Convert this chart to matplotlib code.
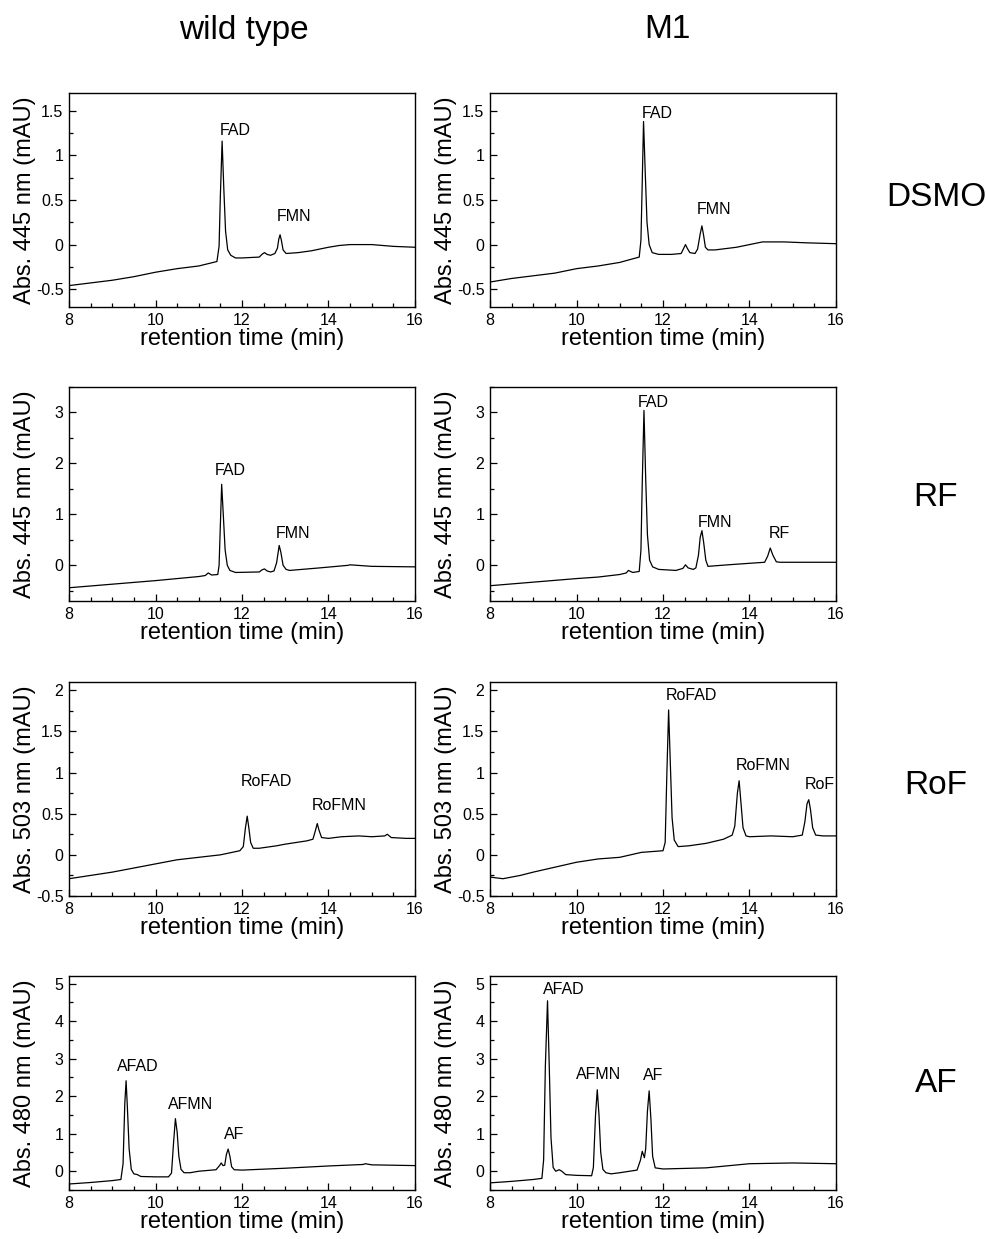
import matplotlib
matplotlib.use('Agg')
import matplotlib.pyplot as plt
from matplotlib.ticker import MultipleLocator, FuncFormatter

plt.rcParams['font.family'] = ['Liberation Sans', 'DejaVu Sans']

# wild type / DSMO
wt_dsmo_t = [8.0, 8.5, 9.0, 9.5, 10.0, 10.5, 11.0, 11.42, 11.47, 11.50, 11.54, 11.58, 11.62, 11.67,
             11.74, 11.85, 12.0, 12.4, 12.46, 12.52, 12.58, 12.66, 12.76, 12.82, 12.85, 12.88, 12.91,
             12.95, 13.02, 13.3, 13.6, 13.8, 14.0, 14.25, 14.5, 15.0, 15.5, 16.0]
wt_dsmo_a = [-0.46, -0.43, -0.40, -0.36, -0.31, -0.27, -0.24, -0.19, -0.02, 0.55, 1.16, 0.62, 0.15, -0.06,
             -0.12, -0.15, -0.15, -0.14, -0.11, -0.09, -0.11, -0.12, -0.10, -0.04, 0.06, 0.11, 0.05,
             -0.06, -0.10, -0.09, -0.07, -0.05, -0.03, -0.01, 0.0, 0.0, -0.02, -0.03]

# M1 / DSMO
m1_dsmo_t = [8.0, 8.5, 9.0, 9.5, 10.0, 10.5, 11.0, 11.3, 11.45, 11.49, 11.52, 11.55, 11.59, 11.63, 11.68,
             11.75, 11.9, 12.2, 12.42, 12.48, 12.52, 12.56, 12.62, 12.74, 12.8, 12.86, 12.9, 12.94,
             12.98, 13.04, 13.2, 13.7, 14.0, 14.3, 14.8, 15.3, 16.0]
m1_dsmo_a = [-0.42, -0.38, -0.35, -0.32, -0.27, -0.24, -0.20, -0.16, -0.14, 0.05, 0.70, 1.38, 0.80, 0.25, 0.0,
             -0.09, -0.11, -0.11, -0.10, -0.04, 0.0, -0.04, -0.09, -0.10, -0.05, 0.12, 0.21, 0.10,
             -0.03, -0.06, -0.06, -0.03, 0.0, 0.03, 0.03, 0.02, 0.01]

# wild type / RF
wt_rf_t = [8.0, 9.0, 10.0, 10.5, 11.0, 11.15, 11.22, 11.3, 11.44, 11.47, 11.50, 11.53, 11.57, 11.61,
           11.66, 11.72, 11.85, 12.4, 12.46, 12.52, 12.58, 12.66, 12.74, 12.8, 12.86, 12.9, 12.95,
           13.02, 13.1, 13.8, 14.45, 14.5, 15.0, 16.0]
wt_rf_a = [-0.44, -0.37, -0.30, -0.26, -0.22, -0.20, -0.15, -0.19, -0.18, 0.0, 0.80, 1.59, 0.95, 0.30,
           0.0, -0.10, -0.14, -0.13, -0.09, -0.07, -0.11, -0.13, -0.11, 0.05, 0.39, 0.25, 0.0,
           -0.08, -0.10, -0.05, 0.0, 0.01, -0.02, -0.03]

# M1 / RF
m1_rf_t = [8.0, 9.0, 10.0, 10.5, 11.0, 11.15, 11.2, 11.3, 11.45, 11.49, 11.52, 11.56, 11.60, 11.64,
           11.69, 11.76, 11.9, 12.3, 12.46, 12.52, 12.58, 12.7, 12.76, 12.82, 12.86, 12.9, 12.94,
           12.99, 13.04, 13.5, 14.0, 14.35, 14.42, 14.48, 14.54, 14.62, 14.7, 15.5, 16.0]
m1_rf_a = [-0.40, -0.33, -0.26, -0.23, -0.18, -0.15, -0.10, -0.14, -0.12, 0.30, 1.60, 3.04, 1.70, 0.60,
           0.10, -0.03, -0.08, -0.10, -0.06, 0.01, -0.05, -0.08, -0.05, 0.20, 0.55, 0.68, 0.45,
           0.10, -0.02, 0.01, 0.04, 0.06, 0.18, 0.34, 0.20, 0.07, 0.06, 0.06, 0.06]

# wild type / RoF
wt_rof_t = [8.0, 8.5, 9.0, 9.5, 10.0, 10.5, 11.0, 11.5, 11.95, 12.03, 12.08, 12.12, 12.16, 12.2,
            12.26, 12.4, 12.8, 13.0, 13.5, 13.64, 13.7, 13.74, 13.78, 13.84, 14.0, 14.3, 14.7,
            15.0, 15.3, 15.36, 15.45, 15.8, 16.0]
wt_rof_a = [-0.29, -0.25, -0.21, -0.16, -0.11, -0.06, -0.03, 0.0, 0.05, 0.10, 0.33, 0.47, 0.32, 0.15,
            0.08, 0.08, 0.11, 0.13, 0.17, 0.19, 0.30, 0.38, 0.30, 0.21, 0.20, 0.22, 0.23,
            0.22, 0.23, 0.25, 0.21, 0.20, 0.20]

# M1 / RoF
m1_rof_t = [8.0, 8.3, 8.7, 9.0, 9.5, 10.0, 10.5, 11.0, 11.5, 12.0, 12.05, 12.09, 12.13, 12.17, 12.21,
            12.26, 12.35, 12.6, 13.0, 13.4, 13.6, 13.66, 13.72, 13.76, 13.8, 13.85, 13.92, 14.0,
            14.5, 15.0, 15.22, 15.28, 15.33, 15.37, 15.41, 15.46, 15.53, 15.7, 16.0]
m1_rof_a = [-0.27, -0.29, -0.25, -0.21, -0.15, -0.09, -0.05, -0.03, 0.03, 0.05, 0.15, 1.00, 1.76, 1.10, 0.45,
            0.18, 0.10, 0.11, 0.14, 0.19, 0.24, 0.35, 0.75, 0.90, 0.65, 0.33, 0.23, 0.22,
            0.23, 0.22, 0.24, 0.40, 0.62, 0.67, 0.55, 0.33, 0.24, 0.23, 0.23]

# wild type / AF
wt_af_t = [8.0, 8.5, 9.0, 9.2, 9.25, 9.29, 9.32, 9.35, 9.39, 9.44, 9.5, 9.58, 9.66, 10.0, 10.3, 10.37,
           10.42, 10.46, 10.5, 10.54, 10.59, 10.66, 10.8, 11.0, 11.4, 11.48, 11.52, 11.56, 11.6,
           11.64, 11.68, 11.72, 11.76, 11.82, 12.0, 13.0, 14.0, 14.8, 14.85, 15.0, 16.0]
wt_af_a = [-0.34, -0.30, -0.25, -0.22, 0.20, 1.80, 2.41, 1.70, 0.60, 0.05, -0.07, -0.09, -0.14, -0.15, -0.15, -0.05,
           0.80, 1.40, 1.05, 0.40, 0.05, -0.04, -0.04, 0.0, 0.04, 0.15, 0.22, 0.15, 0.16,
           0.45, 0.59, 0.40, 0.12, 0.04, 0.03, 0.08, 0.14, 0.18, 0.20, 0.17, 0.15]

# M1 / AF
m1_af_t = [8.0, 8.5, 9.0, 9.2, 9.24, 9.28, 9.33, 9.37, 9.41, 9.46, 9.52, 9.6, 9.66, 9.75, 10.0, 10.35,
           10.39, 10.44, 10.48, 10.52, 10.56, 10.61, 10.68, 10.8, 11.0, 11.4, 11.48, 11.52, 11.57,
           11.6, 11.64, 11.68, 11.72, 11.76, 11.82, 12.0, 13.0, 14.0, 15.0, 16.0]
m1_af_a = [-0.31, -0.27, -0.22, -0.19, 0.30, 2.80, 4.54, 2.80, 0.90, 0.10, 0.0, 0.04, 0.0, -0.09, -0.11, -0.12,
           0.10, 1.50, 2.17, 1.50, 0.50, 0.05, -0.04, -0.07, -0.04, 0.03, 0.30, 0.53, 0.36,
           0.60, 1.60, 2.14, 1.40, 0.40, 0.09, 0.06, 0.09, 0.20, 0.22, 0.20]

col_titles = ['wild type', 'M1']
row_titles = ['DSMO', 'RF', 'RoF', 'AF']
wavelengths = ['445', '445', '503', '480']

traces = [
    [(wt_dsmo_t, wt_dsmo_a), (m1_dsmo_t, m1_dsmo_a)],
    [(wt_rf_t, wt_rf_a), (m1_rf_t, m1_rf_a)],
    [(wt_rof_t, wt_rof_a), (m1_rof_t, m1_rof_a)],
    [(wt_af_t, wt_af_a), (m1_af_t, m1_af_a)],
]

# peak labels: (text, x, y) in data coords of each panel
peak_labels = [
    [[('FAD', 11.84, 1.28), ('FMN', 13.20, 0.31)],
     [('FAD', 11.86, 1.47), ('FMN', 13.17, 0.39)]],
    [[('FAD', 11.72, 1.87), ('FMN', 13.17, 0.62)],
     [('FAD', 11.78, 3.20), ('FMN', 13.21, 0.84), ('RF', 14.69, 0.63)]],
    [[('RoFAD', 12.57, 0.89), ('RoFMN', 14.25, 0.60)],
     [('RoFAD', 12.65, 1.94), ('RoFMN', 14.31, 1.08), ('RoF', 15.62, 0.85)]],
    [[('AFAD', 9.60, 2.79), ('AFMN', 10.82, 1.77), ('AF', 11.82, 0.97)],
     [('AFAD', 9.71, 4.84), ('AFMN', 10.52, 2.57), ('AF', 11.77, 2.54)]],
]

ylims = [(-0.7, 1.7), (-0.7, 3.5), (-0.5, 2.1), (-0.5, 5.2)]
y_major = [0.5, 1, 0.5, 1]
y_minor = [0.25, 0.5, 0.25, 0.5]

W, H = 987, 1239
fig = plt.figure(figsize=(W / 100, H / 100), dpi=100)

col_left = [69, 490]
row_top = [93, 387, 682, 976]
ax_w, ax_h = 346, 214

fmt = FuncFormatter(lambda v, p: '%g' % v)

for r in range(4):
    for c in range(2):
        ax = fig.add_axes([col_left[c] / W, 1 - (row_top[r] + ax_h) / H, ax_w / W, ax_h / H])
        t, a = traces[r][c]
        ax.plot(t, a, color='black', lw=0.9)
        ax.set_xlim(8, 16)
        ax.set_ylim(*ylims[r])
        ax.xaxis.set_major_locator(MultipleLocator(2))
        ax.xaxis.set_minor_locator(MultipleLocator(0.5))
        ax.yaxis.set_major_locator(MultipleLocator(y_major[r]))
        ax.yaxis.set_minor_locator(MultipleLocator(y_minor[r]))
        ax.yaxis.set_major_formatter(fmt)
        ax.xaxis.set_major_formatter(fmt)
        ax.tick_params(which='both', direction='in', top=False, right=False, labelsize=11.5, width=0.9)
        ax.tick_params(which='major', length=5, pad=4)
        ax.tick_params(which='minor', length=3)
        for s in ax.spines.values():
            s.set_linewidth(1.0)
        ax.set_xlabel('retention time (min)', fontsize=17)
        ax.xaxis.set_label_coords(0.5, -0.1)
        ax.set_ylabel('Abs. %s nm (mAU)' % wavelengths[r], fontsize=17)
        ax.yaxis.set_label_coords(-0.094, 0.5)
        for txt, x, y in peak_labels[r][c]:
            ax.text(x, y, txt, fontsize=11.5, ha='center', va='center')

fig.text(244 / W, 1 - 30 / H, col_titles[0], fontsize=24, ha='center', va='center')
fig.text(667 / W, 1 - 30 / H, col_titles[1], fontsize=24, ha='center', va='center')
for r, y in enumerate([198, 497, 785, 1083]):
    fig.text(936 / W, 1 - y / H, row_titles[r], fontsize=24, ha='center', va='center')

fig.savefig('out.png', dpi=100)
